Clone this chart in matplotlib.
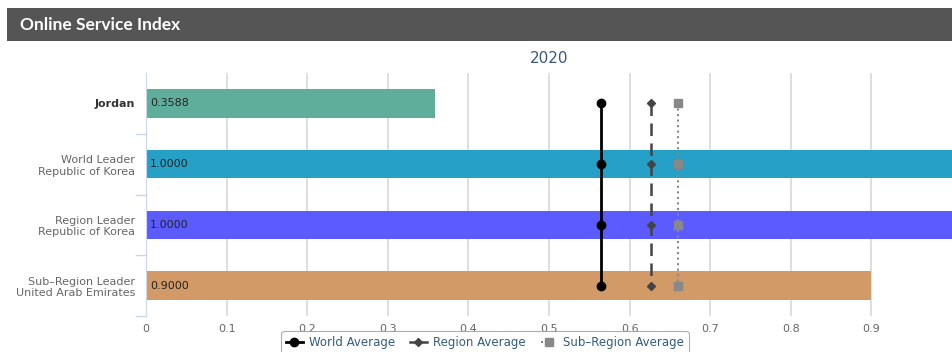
import matplotlib
matplotlib.use("Agg")
import matplotlib.pyplot as plt
from matplotlib.patches import Rectangle
from matplotlib.lines import Line2D

categories = ["Jordan", "World Leader\nRepublic of Korea", "Region Leader\nRepublic of Korea",
              "Sub\u2013Region Leader\nUnited Arab Emirates"]
values = [0.3588, 1.0, 1.0, 0.9]
bar_colors = ["#5fae9b", "#26a0c6", "#5b5bff", "#d19a66"]
world_avg = 0.564
region_avg = 0.627
subregion_avg = 0.660
year = "2020"
xticks = [0, 0.1, 0.2, 0.3, 0.4, 0.5, 0.6, 0.7, 0.8, 0.9]

fig = plt.figure(figsize=(9.52, 3.52), dpi=100)
fig.patch.set_facecolor("white")

# header bar
fig.patches.append(Rectangle((7/952, 1-41/352), (952-7)/952, 33/352, transform=fig.transFigure,
                             facecolor="#555555", edgecolor="none"))
fig.text(20/952, 1-24.5/352, "Online Service Index", color="white", fontsize=12.5,
         fontweight="bold", family="Lato", va="center", ha="left")

ax = fig.add_axes([146/952, 36/352, 806/952, (316-73)/352])
ypos = list(range(len(categories)))
ax.barh(ypos, values, height=0.47, color=bar_colors, zorder=2)
ax.set_xlim(0, 1.0)
ax.set_ylim(3.5, -0.5)
ax.set_xticks(xticks)
ax.set_xticklabels(["0" if t == 0 else f"{t:g}" for t in xticks], color="#666666", fontsize=8)
ax.set_yticks(ypos)
ax.set_yticklabels(categories, fontsize=8, color="#666666")
ax.get_yticklabels()[0].set_fontweight("bold")
ax.get_yticklabels()[0].set_color("#333333")
ax.tick_params(axis="x", length=0, pad=6)
ax.tick_params(axis="y", length=0, pad=8)
ax.grid(axis="x", color="#d8d8d8", linewidth=1.2, zorder=0)
for s in ["top", "right", "bottom"]:
    ax.spines[s].set_visible(False)
ax.spines["left"].set_color("#ccd6eb")
for b in [0.5, 1.5, 2.5, 3.5]:
    ax.plot([-0.012, 0], [b, b], color="#ccd6eb", lw=1, clip_on=False, zorder=3)

for y, v in zip(ypos, values):
    ax.text(0.005, y, f"{v:.4f}", va="center", ha="left", fontsize=8, color="#222222", zorder=5)

ax.plot([world_avg]*4, ypos, color="black", lw=2, marker="o", markersize=6, zorder=4)
ax.plot([region_avg]*4, ypos, color="#444444", lw=1.8, linestyle=(0, (5, 3)), marker="D",
        markersize=4, zorder=4)
ax.plot([subregion_avg]*4, ypos, color="#888888", lw=1.5, linestyle=":", marker="s",
        markersize=6, zorder=4)

ax.set_title(year, color="#3a5a78", fontsize=11, pad=7)

handles = [
    Line2D([], [], color="black", lw=2, marker="o", markersize=6),
    Line2D([], [], color="#444444", lw=1.8, marker="D", markersize=4),
    Line2D([], [], color="#888888", lw=1.5, linestyle=":", marker="s", markersize=6),
]
leg = fig.legend(handles, ["World Average", "Region Average", "Sub\u2013Region Average"],
                 loc="upper center", bbox_to_anchor=(485/952, 1-333/352), ncol=3,
                 fontsize=8.5, frameon=True, handlelength=1.4, columnspacing=1.3,
                 handletextpad=0.5, borderpad=0.25, borderaxespad=0)
leg.get_frame().set_edgecolor("#999999")
leg.get_frame().set_linewidth(0.8)
leg.get_frame().set_boxstyle("round,pad=0.2,rounding_size=0.3")
for t in leg.get_texts():
    t.set_color("#335c7e")

fig.savefig("out.png", dpi=100)
